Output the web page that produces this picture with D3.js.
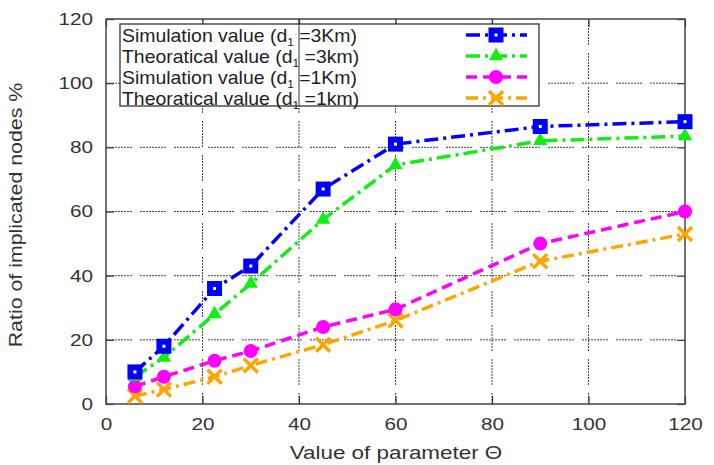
<!DOCTYPE html>
<html>
<head>
<meta charset="utf-8">
<script src="https://cdn.jsdelivr.net/npm/d3@7"></script>
<style>
  body { margin: 0; background: #fff; }
  text { font-family: "Liberation Sans", Arial, sans-serif; }
</style>
</head>
<body>
<div id="container"></div>
<script>
// theta values (360/n)
const thetas = [6, 12, 22.5, 30, 45, 60, 90, 120];
const sim3 = [10, 18, 36, 43, 67, 81, 86.5, 88];
const theo3 = [8.5, 14.5, 28, 37.5, 57.5, 74.5, 82, 83.5];
const sim1 = [5.5, 8.5, 13.5, 16.5, 24, 29.5, 50, 60];
const theo1 = [2.5, 4.5, 8.5, 12, 18.5, 26, 44.5, 53];
const xTicks = [0, 20, 40, 60, 80, 100, 120];
const yTicks = [0, 20, 40, 60, 80, 100, 120];

const series = [
  { name: 'Simulation value (d', sub: '1', tail: ' =3Km)', values: sim3, color: '#0000ff', dash: '14,5,3,5', marker: 'square' },
  { name: 'Theoratical value (d', sub: '1', tail: ' =3km)', values: theo3, color: '#11ee11', dash: '14,5,3,5', marker: 'triangle' },
  { name: 'Simulation value (d', sub: '1', tail: ' =1Km)', values: sim1, color: '#ff00ff', dash: '11,6', marker: 'circle' },
  { name: 'Theoratical value (d', sub: '1', tail: ' =1km)', values: theo1, color: '#ffa500', dash: '12,5,3,5', marker: 'cross' }
];

const width = 714, height = 465;
const margin = { top: 19, right: 29, bottom: 61, left: 106 };
const innerW = width - margin.left - margin.right;
const innerH = height - margin.top - margin.bottom;
const sx = 1.22; // the source text is stretched wide

const svg = d3.select('#container').append('svg').attr('width', width).attr('height', height);
const g = svg.append('g').attr('transform', `translate(${margin.left},${margin.top})`);

const x = d3.scaleLinear().domain([0, 120]).range([0, innerW]);
const y = d3.scaleLinear().domain([0, 120]).range([innerH, 0]);

// dotted grid with short gaps
const gridDash = '2,1,2,1,2,1,2,1,2,1,2,1,2,1,2,1,2,8';
const grid = g.append('g');
xTicks.slice(1, -1).forEach(t => {
  grid.append('line').attr('x1', x(t)).attr('x2', x(t)).attr('y1', 0).attr('y2', innerH)
    .attr('stroke', '#444').attr('stroke-width', 1).attr('stroke-dasharray', gridDash);
});
yTicks.slice(1, -1).forEach(t => {
  grid.append('line').attr('x1', 0).attr('x2', innerW).attr('y1', y(t)).attr('y2', y(t))
    .attr('stroke', '#444').attr('stroke-width', 1).attr('stroke-dasharray', gridDash);
});

// axes (ticks inward, mirrored)
const tickLen = 8;
g.append('g').attr('transform', `translate(0,${innerH})`)
  .call(d3.axisBottom(x).tickValues(xTicks).tickSize(-tickLen).tickPadding(14))
  .call(a => a.select('.domain').remove())
  .call(a => a.selectAll('.tick text').attr('transform', `scale(${sx},1)`));
g.append('g')
  .call(d3.axisLeft(y).tickValues(yTicks).tickSize(-tickLen).tickPadding(12))
  .call(a => a.select('.domain').remove())
  .call(a => a.selectAll('.tick text').attr('x', -13 / sx).attr('transform', `scale(${sx},1)`));
g.append('g')
  .call(d3.axisTop(x).tickValues(xTicks).tickSize(-tickLen).tickFormat(''))
  .call(a => a.select('.domain').remove());
g.append('g').attr('transform', `translate(${innerW},0)`)
  .call(d3.axisRight(y).tickValues(yTicks).tickSize(-tickLen).tickFormat(''))
  .call(a => a.select('.domain').remove());
g.selectAll('.tick line').attr('stroke', '#333').attr('stroke-width', 1.2);
g.selectAll('.tick text').attr('font-size', 17).attr('fill', '#333')
  .attr('font-family', '"Liberation Sans", Arial, sans-serif');

g.append('rect').attr('width', innerW).attr('height', innerH)
  .attr('fill', 'none').attr('stroke', '#444').attr('stroke-width', 1.5);

// axis labels
svg.append('text').attr('transform', `translate(${396},459) scale(${sx * 1.05},1)`)
  .attr('text-anchor', 'middle').attr('font-size', 17.5).attr('fill', '#333')
  .text('Value of parameter \u0398');
svg.append('text').attr('transform', `translate(22,${215}) rotate(-90) scale(${sx},1)`)
  .attr('text-anchor', 'middle').attr('font-size', 17.5).attr('fill', '#333')
  .text('Ratio of implicated nodes %');

function drawMarker(sel, type, cx, cy, color) {
  if (type === 'square') {
    sel.append('rect').attr('x', cx - 7.5).attr('y', cy - 7.5).attr('width', 15).attr('height', 15).attr('fill', color);
    sel.append('rect').attr('x', cx - 1.5).attr('y', cy - 1.5).attr('width', 3).attr('height', 3).attr('fill', '#fff');
  } else if (type === 'triangle') {
    sel.append('path').attr('d', d3.symbol(d3.symbolTriangle, 90)()).attr('transform', `translate(${cx},${cy})`).attr('fill', color);
  } else if (type === 'circle') {
    sel.append('circle').attr('cx', cx).attr('cy', cy).attr('r', 7).attr('fill', color);
  } else {
    sel.append('path').attr('d', `M${cx - 7},${cy - 7}L${cx + 7},${cy + 7}M${cx - 7},${cy + 7}L${cx + 7},${cy - 7}`)
      .attr('stroke', color).attr('stroke-width', 3.5).attr('fill', 'none');
  }
}

const line = d3.line().x((d, i) => x(thetas[i])).y(d => y(d));
series.slice().reverse().forEach(s => {
  g.append('path').datum(s.values).attr('d', line).attr('fill', 'none')
    .attr('stroke', s.color).attr('stroke-width', 3.5).attr('stroke-dasharray', s.dash);
  s.values.forEach((v, i) => drawMarker(g, s.marker, x(thetas[i]), y(v), s.color));
});

// legend
const leg = svg.append('g');
leg.append('rect').attr('x', 120).attr('y', 24).attr('width', 419).attr('height', 82)
  .attr('fill', '#fff').attr('stroke', '#333').attr('stroke-width', 1.3);
leg.append('line').attr('x1', margin.left + x(40)).attr('x2', margin.left + x(40))
  .attr('y1', margin.top).attr('y2', 106).attr('stroke', '#333').attr('stroke-width', 1);
series.forEach((s, i) => {
  const ly = 35 + i * 21;
  const t = leg.append('text').attr('transform', `translate(122,${ly + 6.5}) scale(1.08,1)`)
    .attr('font-size', 18).attr('fill', '#222');
  t.append('tspan').text(s.name);
  t.append('tspan').attr('font-size', 11).attr('dy', 4).text(s.sub);
  t.append('tspan').attr('dy', -4).text(s.tail);
  leg.append('line').attr('x1', 466).attr('x2', 527).attr('y1', ly).attr('y2', ly)
    .attr('stroke', s.color).attr('stroke-width', 3.5).attr('stroke-dasharray', s.dash);
  drawMarker(leg, s.marker, 496, ly, s.color);
});
</script>
</body>
</html>
